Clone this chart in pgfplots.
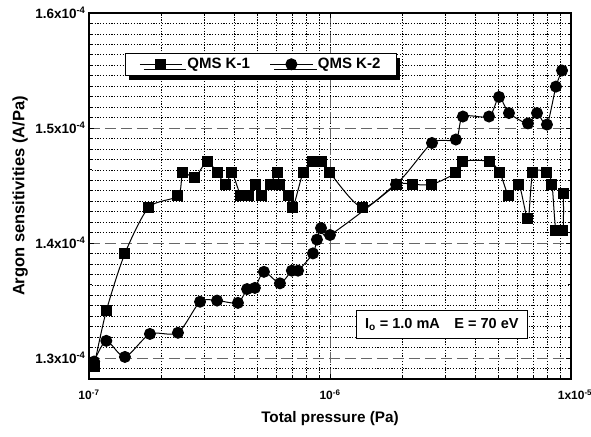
\documentclass[border=0pt]{standalone}
\usepackage{fontspec}
\setmainfont{Liberation Sans}
\usepackage{pgfplots}
\pgfplotsset{compat=1.18}
\usetikzlibrary{shadows}
\begin{document}
\begin{tikzpicture}
\path[use as bounding box] (-89pt,-57pt) rectangle (502pt,379pt);
\begin{axis}[
  at={(0pt,0pt)}, anchor=south west,
  scale only axis, width=482pt, height=366pt,
  xmode=log, xmin=1e-7, xmax=1e-5,
  ymin=1.28182, ymax=1.6,
  xtick={1e-7,1e-6,1e-5},
  xticklabels={10\textsuperscript{-7},10\textsuperscript{-6},\hspace*{8pt}1x10\textsuperscript{-5}},
  ytick={1.2,1.3,1.4,1.5,1.6},
  minor y tick num=10,
  /pgf/number format/assume math mode=true,
  yticklabel={\pgfmathprintnumber[fixed,precision=1,fixed zerofill]{\tick}x10\textsuperscript{-4}},
  y tick label style={font=\bfseries\fontsize{13.5}{15}\selectfont},
  x tick label style={font=\bfseries\fontsize{12}{14}\selectfont, yshift=-7pt},
  grid=both,
  major grid style={draw=black!60, line width=0.9pt, dash pattern=on 11pt off 5pt},
  minor grid style={draw=black, line width=0.7pt, dash pattern=on 1.2pt off 1.6pt},
  axis line style={line width=1.6pt},
  major tick length=5pt, minor tick length=3pt,
  tick style={black, line width=0.8pt},
  xlabel={Total pressure (Pa)},
  ylabel={Argon sensitivities (A/Pa)},
  xlabel style={font=\bfseries\fontsize{15.3}{18}\selectfont, at={(axis description cs:0.5,-0.107)}, anchor=center},
  ylabel style={font=\bfseries\fontsize{16.5}{19}\selectfont, at={(axis description cs:-0.143,0.5)}, anchor=center, rotate=0},
  legend columns=2,
  legend style={at={(axis description cs:0.0747,0.891)}, anchor=north west,
    draw=black, line width=0.8pt, fill=white,
    font=\bfseries\fontsize{15}{17}\selectfont,
    inner xsep=14pt, inner ysep=3pt,
    drop shadow={shadow xshift=4pt, shadow yshift=-5pt, fill=black, opacity=1},
    /tikz/every odd column/.append style={column sep=3pt},
    /tikz/every even column/.append style={column sep=18pt}},
  legend image code/.code={
    \draw[mark repeat=2,mark phase=2] plot coordinates {(0pt,0pt) (21pt,0pt) (42pt,0pt)};
  },
]
\addplot[black, line width=1pt, smooth, tension=0.45, mark=square*, mark size=5pt, mark options={solid}] coordinates {
(1.05e-7,1.293) (1.18e-7,1.341) (1.41e-7,1.391) (1.77e-7,1.431) (2.34e-7,1.441)
(2.45e-7,1.461) (2.75e-7,1.457) (3.09e-7,1.471) (3.40e-7,1.461) (3.70e-7,1.451)
(3.92e-7,1.461) (4.27e-7,1.441) (4.57e-7,1.441) (4.93e-7,1.451) (5.22e-7,1.441)
(5.64e-7,1.451) (6.03e-7,1.461) (6.20e-7,1.451) (6.70e-7,1.441) (7.02e-7,1.431)
(7.73e-7,1.461) (8.50e-7,1.471) (9.26e-7,1.471) (1.0e-6,1.461) (1.36e-6,1.431)
(1.88e-6,1.451) (2.21e-6,1.451) (2.65e-6,1.451) (3.33e-6,1.461) (3.56e-6,1.471)
(4.57e-6,1.471) (5.07e-6,1.461) (5.53e-6,1.441) (6.08e-6,1.451) (6.63e-6,1.421)
(6.95e-6,1.461) (7.95e-6,1.461) (8.34e-6,1.451) (8.66e-6,1.411) (9.26e-6,1.411)
(9.30e-6,1.443)
};
\addlegendentry{QMS K-1}
\addplot[black, line width=1pt, smooth, tension=0.45, mark=*, mark size=5.5pt, mark options={solid}] coordinates {
(1.05e-7,1.297) (1.18e-7,1.315) (1.41e-7,1.301) (1.79e-7,1.321) (2.34e-7,1.322)
(2.89e-7,1.349) (3.40e-7,1.350) (4.15e-7,1.348) (4.53e-7,1.360) (4.88e-7,1.361)
(5.32e-7,1.375) (6.20e-7,1.365) (6.95e-7,1.376) (7.37e-7,1.376) (8.50e-7,1.391)
(8.83e-7,1.403) (9.18e-7,1.413) (1.0e-6,1.407) (1.88e-6,1.451) (2.65e-6,1.487)
(3.33e-6,1.490) (3.56e-6,1.510) (4.57e-6,1.510) (5.03e-6,1.527) (5.53e-6,1.513)
(6.63e-6,1.504) (7.23e-6,1.513) (7.95e-6,1.503) (8.66e-6,1.536) (9.18e-6,1.550)
};
\addlegendentry{QMS K-2}
\node[draw=black, line width=0.8pt, fill=white, font=\bfseries\fontsize{14.5}{16}\selectfont, inner xsep=9pt, inner ysep=8pt]
  at (axis description cs:0.732,0.150) {I\textsubscript{o} = 1.0 mA\quad E = 70 eV};
\end{axis}
\end{tikzpicture}
\end{document}
